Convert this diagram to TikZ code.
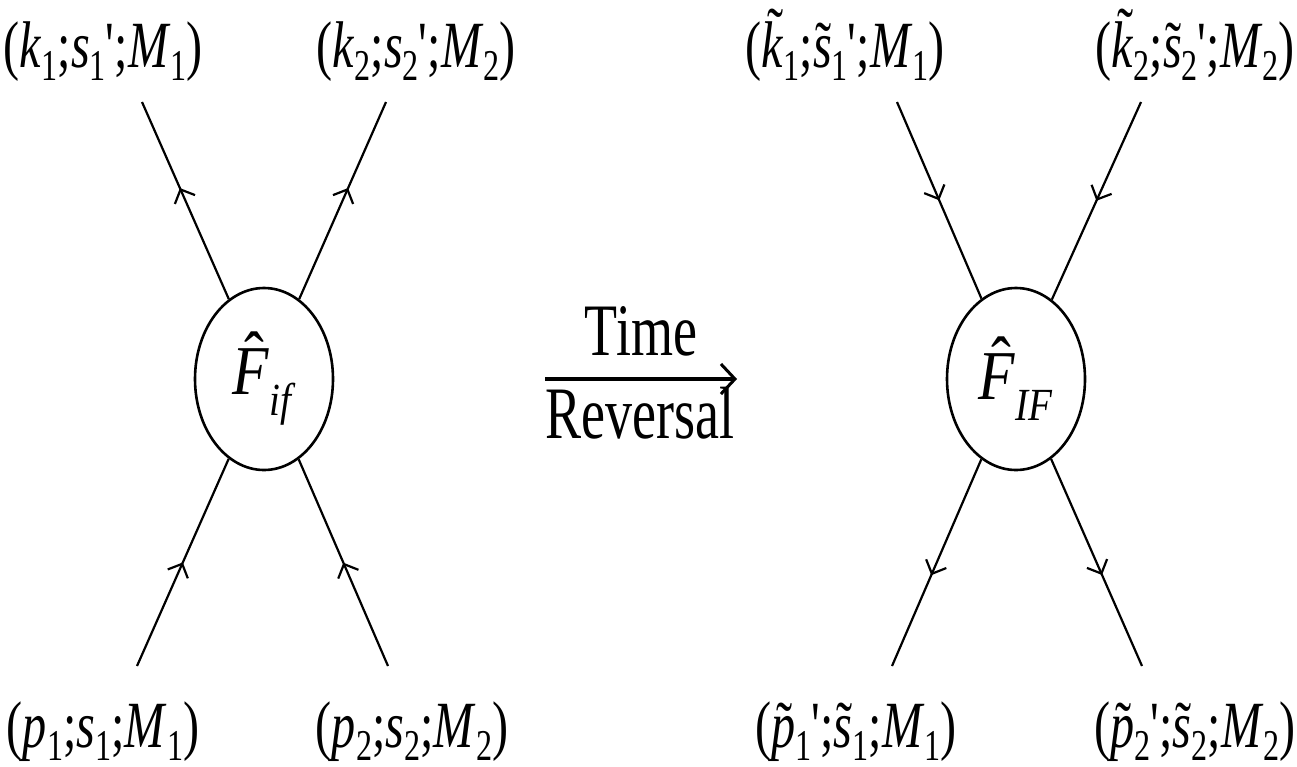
\documentclass[tikz,border=0pt]{standalone}
\usepackage{fontspec}
\setmainfont{Liberation Serif}
\usetikzlibrary{arrows.meta,decorations.markings,shapes.geometric}
\newcommand\sbx[1]{\raisebox{-0.2em}{\fontsize{44}{44}\selectfont #1}}
\newcommand\pr{\textquotesingle}
% accent over an italic letter: #1 accent char, #2 raise, #3 shift, #4 letter
\newcommand\ac[4]{\setbox0\hbox{\textit{#4}}\rlap{\usebox0}\makebox[\wd0]{\hspace*{#3}\raisebox{#2}{#1}}}
\newcommand\tk{\ac{˜}{0.2em}{0.12em}{k}}
\newcommand\ts{\ac{˜}{0em}{0.05em}{s}}
\newcommand\tp{\ac{˜}{0em}{0.05em}{p}}
\newcommand\hF{\ac{ˆ}{0.2em}{0.12em}{F}}
\newcommand\sq[1]{\scalebox{0.73}[1]{#1}}
\newcommand\sqf[1]{\scalebox{0.85}[1]{#1}}
\begin{document}
\begin{tikzpicture}[x=1pt,y=-1pt,
  lab/.style={anchor=base,inner sep=0pt,font=\fontsize{66}{70}\selectfont},
  blob/.style={draw,ellipse,line width=2.6pt,minimum width=138pt,minimum height=182pt,inner sep=0pt,font=\fontsize{70}{74}\selectfont},
  leg/.style={line width=2.2pt},
  midup/.style={leg,postaction={decorate},decoration={markings,mark=at position 0.5 with {\arrow[line width=2.2pt]{Straight Barb[length=11pt,width=22pt]}}}},
  middown/.style={leg,postaction={decorate},decoration={markings,mark=at position 0.5 with {\arrow[line width=2.2pt]{Straight Barb[length=11pt,width=22pt,reversed]}}}}
]
\useasboundingbox (0,0) rectangle (1297,766);
% left diagram
\node[blob] (E1) at (264,379) {\sqf{\raisebox{-0.25em}{\hF\raisebox{-0.3em}{\fontsize{46}{46}\selectfont\textit{if}}}}};
\node[lab] (L1) at (103,67) {\sq{(\textit{k}\sbx{1};\textit{s}\sbx{1}\pr;\textit{M}\sbx{1})}};
\node[lab] (L2) at (416,67) {\sq{(\textit{k}\sbx{2};\textit{s}\sbx{2}\pr;\textit{M}\sbx{2})}};
\node[lab] (L3) at (103,747) {\sq{(\textit{p}\sbx{1};\textit{s}\sbx{1};\textit{M}\sbx{1})}};
\node[lab] (L4) at (412,747) {\sq{(\textit{p}\sbx{2};\textit{s}\sbx{2};\textit{M}\sbx{2})}};
\coordinate (a1) at (142,102);
\coordinate (a2) at (386,102);
\coordinate (a3) at (137,666);
\coordinate (a4) at (388,666);
\draw[middown] (a1) -- (E1);
\draw[middown] (a2) -- (E1);
\draw[midup] (a3) -- (E1);
\draw[midup] (a4) -- (E1);
% right diagram
\node[blob] (E2) at (1016,379) {\sqf{\raisebox{-0.25em}{\hF\raisebox{-0.3em}{\fontsize{46}{46}\selectfont\textit{IF}}}}};
\node[lab] (R1) at (845,67) {\sq{(\tk\sbx{1};\ts\sbx{1}\pr;\textit{M}\sbx{1})}};
\node[lab] (R2) at (1195,67) {\sq{(\tk\sbx{2};\ts\sbx{2}\pr;\textit{M}\sbx{2})}};
\node[lab] (R3) at (856,747) {\sq{(\tp\sbx{1}\pr;\ts\sbx{1};\textit{M}\sbx{1})}};
\node[lab] (R4) at (1195,747) {\sq{(\tp\sbx{2}\pr;\ts\sbx{2};\textit{M}\sbx{2})}};
\coordinate (b1) at (897,102);
\coordinate (b2) at (1141,102);
\coordinate (b3) at (892,666);
\coordinate (b4) at (1142,666);
\draw[midup] (b1) -- (E2);
\draw[midup] (b2) -- (E2);
\draw[middown] (b3) -- (E2);
\draw[middown] (b4) -- (E2);
% time reversal
\coordinate (t0) at (545,379);
\coordinate (t1) at (737,379);
\draw[line width=4.5pt,-{Straight Barb[length=14pt,width=30pt,line width=3pt]}] (t0) -- (t1);
\node[lab,font=\fontsize{74}{78}\selectfont] (T1) at (641,355) {\sq{Time}};
\node[lab,font=\fontsize{74}{78}\selectfont] (T2) at (640,438) {\sq{Reversal}};
\end{tikzpicture}
\end{document}
